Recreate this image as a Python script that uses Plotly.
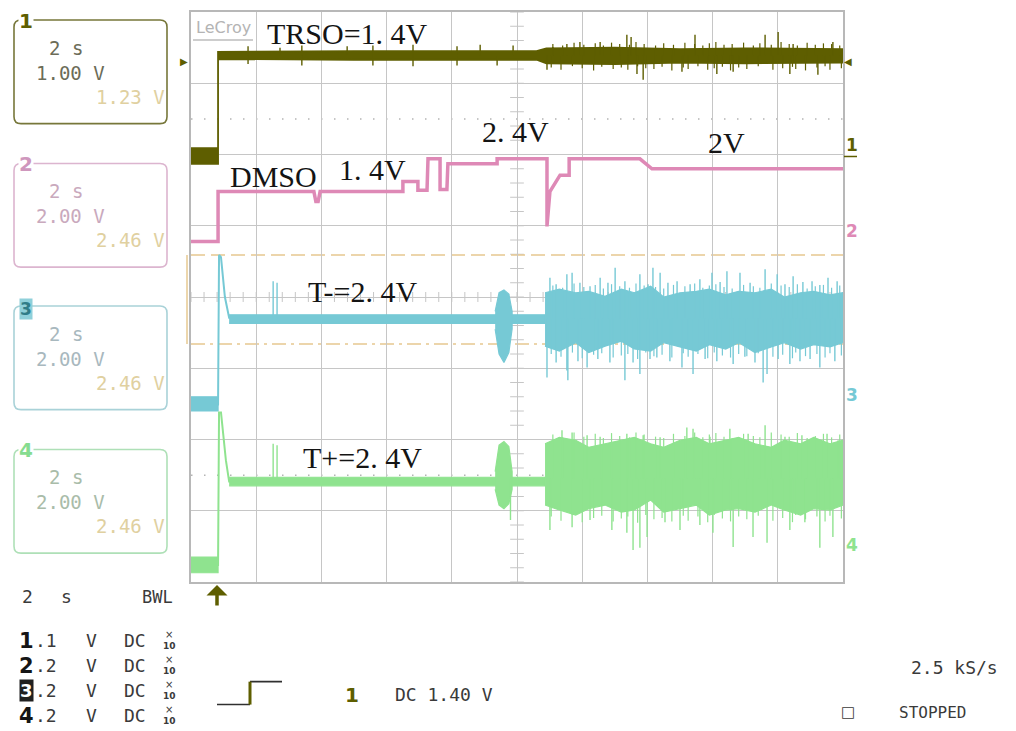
import plotly.graph_objects as go

# ---------------- DATA (time in s, 2 s/div; vertical in screen divisions) ----------------
# Channel 1 (TRSO) – olive
ch1_band_t = [-10.0, -9.17, -9.17, -5.0, 0.6, 0.9, 3.0, 5.0, 7.0, 10.0]
ch1_band_hi = [2.09, 2.09, 3.44, 3.45, 3.45, 3.49, 3.50, 3.48, 3.49, 3.48]
ch1_band_lo = [1.87, 1.87, 3.34, 3.33, 3.33, 3.28, 3.27, 3.29, 3.28, 3.29]
ch1_base = 3.39
ch1_up_t = [-8.25, -7.27, -6.60, -5.21, -4.42, -3.19, -1.84, -1.13, -0.12, 1.10,
            1.53, 1.93, 2.55, 3.37, 3.50, 5.46, 7.61, 8.01, 8.47, 9.69]
ch1_up_v = [3.52, 3.50, 3.53, 3.52, 3.53, 3.54, 3.52, 3.54, 3.53, 3.51,
            3.55, 3.58, 3.58, 3.68, 3.65, 3.68, 3.68, 3.72, 3.55, 3.58]
ch1_dn_t = [-8.25, -6.60, -4.42, -3.19, -1.84, -0.61, 0.92, 3.68, 3.87, 5.06, 6.13, 6.63, 8.37, 9.23]
ch1_dn_v = [3.27, 3.25, 3.25, 3.24, 3.25, 3.25, 3.19, 3.13, 3.05, 3.16, 3.13, 3.16, 3.13, 3.12]
ch1_mid_up_v = [3.55, 3.53, 3.57, 3.54, 3.56, 3.53, 3.57, 3.55, 3.54, 3.58, 3.55, 3.53, 3.56, 3.54, 3.57, 3.55, 3.53,
                3.56, 3.58, 3.54, 3.55, 3.57, 3.53, 3.56, 3.54, 3.58, 3.55, 3.53, 3.57, 3.54, 3.56, 3.55, 3.53]
ch1_mid_dn_v = [3.22, 3.19, 3.24, 3.21, 3.18, 3.23, 3.20, 3.22, 3.19, 3.24, 3.21, 3.20, 3.23, 3.18, 3.22, 3.20, 3.24,
                3.19, 3.21, 3.23, 3.18, 3.22, 3.20, 3.24, 3.19, 3.21, 3.23, 3.20, 3.18, 3.22, 3.24, 3.19, 3.21]

# Channel 2 (DMSO) – pink
ch2_t = [-10.0, -9.17, -9.17, -6.23, -6.17, -6.10, -6.04, -3.50, -3.50, -3.04,
         -3.04, -2.76, -2.73, -2.36, -2.36, -2.15, -2.12, -0.61, -0.61, 0.92,
         0.92, 1.01, 1.32, 1.60, 1.60, 3.77, 4.14, 10.0]
ch2_v = [0.78, 0.78, 1.48, 1.48, 1.34, 1.34, 1.48, 1.48, 1.62, 1.62,
         1.50, 1.50, 1.94, 1.94, 1.51, 1.51, 1.87, 1.87, 1.94, 1.94,
         0.99, 1.48, 1.71, 1.71, 1.94, 1.94, 1.80, 1.80]

# Channel 3 (T-) – cyan
ch3_line_t = [-10.0, -9.17, -9.14, -9.08, -8.96, -8.83, 0.86]
ch3_line_v = [-1.51, -1.51, 0.59, 0.56, 0.00, -0.29, -0.31]
ch3_low_t = [-10.0, -9.17]
ch3_low_hi = [-1.40, -1.40]
ch3_low_lo = [-1.60, -1.60]
ch3_flat_t = [-8.83, 0.86]
ch3_flat_hi = [-0.25, -0.25]
ch3_flat_lo = [-0.37, -0.37]
ch3_burst_t = [-0.67, -0.55, -0.40, -0.25, -0.15]
ch3_burst_hi = [-0.20, 0.06, 0.10, 0.04, -0.20]
ch3_burst_lo = [-0.45, -0.80, -0.92, -0.78, -0.45]
noise_t = [0.86, 1.3, 1.8, 2.2, 2.7, 3.2, 3.6, 4.1, 4.5, 5.0, 5.5,
           5.9, 6.4, 6.8, 7.3, 7.8, 8.2, 8.7, 9.1, 9.6, 10.0]
ch3_noise_hi = [0.06, 0.11, 0.06, 0.08, 0.01, 0.11, 0.06, 0.15, 0.0, 0.06, 0.08,
                0.11, 0.03, 0.08, 0.06, 0.11, 0.0, 0.06, 0.08, 0.03, 0.06]
ch3_noise_lo = [-0.69, -0.76, -0.64, -0.78, -0.69, -0.62, -0.73, -0.76, -0.64, -0.70, -0.76,
                -0.67, -0.73, -0.64, -0.78, -0.70, -0.64, -0.73, -0.67, -0.70, -0.64]
ch3_base = -0.30
ch3_up_t = [-7.48, -7.36, 1.01, 1.20, 1.53, 1.69, 1.93, 2.24, 2.55, 2.79, 3.01, 3.31, 3.77, 4.02,
            4.17, 4.39, 4.63, 4.91, 5.31, 5.61, 5.98, 6.23, 6.44, 6.84, 7.15, 7.61,
            7.98, 8.22, 8.47, 8.77, 9.05, 9.29, 9.54, 9.82]
ch3_up_v = [0.22, 0.20, 0.27, 0.18, 0.32, 0.34, 0.20, 0.15, 0.27, 0.20, 0.41, 0.22, 0.32, 0.18,
            0.41, 0.34, 0.20, 0.22, 0.18, 0.25, 0.34, 0.21, 0.36, 0.34, 0.20, 0.39,
            0.32, 0.18, 0.29, 0.21, 0.22, 0.17, 0.27, 0.22]
ch3_dn_t = [0.92, 1.20, 1.53, 1.56, 1.87, 2.15, 2.48, 2.85, 3.31, 3.56, 3.77, 4.08, 4.29, 4.69,
            5.06, 5.40, 5.77, 6.13, 6.63, 6.99, 7.30, 7.55, 7.67, 8.01, 8.37, 8.68, 8.99, 9.29, 9.75]
ch3_dn_v = [-1.13, -0.92, -1.03, -1.17, -0.90, -0.99, -0.87, -0.92, -1.17, -0.92, -1.08, -0.87, -0.85, -0.90,
            -0.99, -1.08, -0.87, -0.90, -0.94, -0.84, -0.92, -1.20, -1.08, -0.87, -0.94, -0.90, -0.87, -0.99, -0.90]
# medium-height noise spikes (shared time positions for ch1 / ch3 / ch4 noisy section)
mid_up_t = [1.1, 1.4, 1.75, 2.05, 2.4, 2.65, 2.9, 3.15, 3.45, 3.65, 3.9, 4.25, 4.5, 4.8, 5.15, 5.45, 5.7,
            5.9, 6.1, 6.35, 6.6, 6.95, 7.25, 7.45, 7.8, 8.1, 8.35, 8.6, 8.9, 9.15, 9.4, 9.65, 9.9]
mid_dn_t = [1.05, 1.35, 1.7, 2.0, 2.35, 2.6, 2.95, 3.2, 3.4, 3.7, 3.95, 4.2, 4.45, 4.75, 5.1, 5.25, 5.55,
            5.85, 6.05, 6.3, 6.55, 6.8, 7.05, 7.4, 7.85, 8.15, 8.45, 8.55, 8.85, 9.2, 9.45, 9.6, 9.95]
ch3_mid_up_v = [0.16, 0.13, 0.19, 0.14, 0.17, 0.12, 0.18, 0.15, 0.13, 0.19, 0.16, 0.14, 0.12, 0.17, 0.15, 0.19, 0.13,
                0.16, 0.18, 0.14, 0.12, 0.17, 0.15, 0.13, 0.19, 0.16, 0.14, 0.18, 0.12, 0.15, 0.17, 0.13, 0.16]
ch3_mid_dn_v = [-0.80, -0.84, -0.78, -0.86, -0.81, -0.79, -0.85, -0.82, -0.80, -0.87, -0.78, -0.83, -0.81, -0.85,
                -0.79, -0.84, -0.80, -0.86, -0.78, -0.82, -0.85, -0.80, -0.83, -0.79, -0.84, -0.81, -0.86, -0.78,
                -0.83, -0.80, -0.85, -0.79, -0.82]

# Channel 4 (T+) – green
ch4_line_t = [-10.0, -9.17, -9.14, -9.08, -8.93, -8.83, 0.86]
ch4_line_v = [-3.76, -3.76, -1.62, -1.62, -2.29, -2.59, -2.59]
ch4_low_t = [-10.0, -9.17]
ch4_low_hi = [-3.65, -3.65]
ch4_low_lo = [-3.87, -3.87]
ch4_flat_t = [-8.83, 0.86]
ch4_flat_hi = [-2.53, -2.53]
ch4_flat_lo = [-2.65, -2.65]
ch4_burst_t = [-0.67, -0.55, -0.40, -0.25, -0.15]
ch4_burst_hi = [-2.45, -2.08, -2.03, -2.10, -2.45]
ch4_burst_lo = [-2.70, -2.92, -2.97, -2.90, -2.70]
ch4_noise_hi = [-2.06, -1.97, -2.01, -2.11, -2.06, -2.01, -1.97, -2.06, -2.11, -2.01, -1.97,
                -2.06, -2.01, -1.97, -2.06, -2.11, -2.01, -2.06, -1.97, -2.06, -2.01]
ch4_noise_lo = [-2.92, -2.99, -3.06, -2.97, -2.92, -3.02, -2.99, -2.85, -3.02, -2.97, -2.92,
                -3.06, -2.99, -2.97, -3.02, -2.92, -2.99, -3.06, -2.97, -2.99, -2.92]
ch4_base = -2.55
ch4_up_t = [-7.48, -7.36, 1.38, 1.69, 2.15, 2.55, 3.37, 3.87, 4.39, 5.21, 5.40, 5.92, 6.53,
            7.09, 7.61, 8.22, 8.74, 9.51, 9.85]
ch4_up_v = [-2.06, -2.08, -1.87, -1.90, -1.94, -1.96, -1.92, -1.94, -1.97, -1.83, -1.85, -1.96, -1.85,
            -1.92, -1.80, -1.96, -1.94, -1.92, -2.01]
ch4_dn_t = [-0.2, 1.01, 1.69, 2.24, 2.91, 3.37, 3.56, 3.77, 3.99, 4.54, 5.00, 5.61, 6.01, 6.63,
            7.24, 7.67, 8.37, 8.83, 9.29, 9.69]
ch4_dn_v = [-3.13, -3.27, -3.23, -3.13, -3.27, -3.31, -3.55, -3.52, -3.37, -3.16, -3.27, -3.20, -3.31, -3.51,
            -3.37, -3.45, -3.27, -3.16, -3.52, -3.37]
ch4_mid_up_v = [-1.93, -1.97, -1.90, -1.96, -1.92, -1.98, -1.91, -1.95, -1.97, -1.90, -1.93, -1.96, -1.98, -1.92,
                -1.95, -1.90, -1.97, -1.93, -1.91, -1.96, -1.98, -1.92, -1.95, -1.97, -1.90, -1.93, -1.96, -1.91,
                -1.98, -1.95, -1.92, -1.97, -1.93]
ch4_mid_dn_v = [-3.08, -3.14, -3.06, -3.16, -3.10, -3.07, -3.15, -3.11, -3.08, -3.17, -3.06, -3.12, -3.10, -3.15,
                -3.07, -3.14, -3.08, -3.16, -3.06, -3.11, -3.15, -3.08, -3.12, -3.07, -3.14, -3.10, -3.16, -3.06,
                -3.12, -3.08, -3.15, -3.07, -3.11]

# cursors (screen divisions)
cursor_levels = [0.59, -0.66]

# labels on the traces
trace_labels = ["TRSO=1. 4V", "DMSO", "1. 4V", "2. 4V", "2V", "T-=2. 4V", "T+=2. 4V"]
label_t = [-5.21, -7.48, -4.42, -0.06, 6.44, -4.75, -4.75]
label_v = [3.70, 1.69, 1.79, 2.32, 2.17, 0.08, -2.25]

# channel setup boxes
box_ch = ["1", "2", "3", "4"]
box_time = ["2 s", "2 s", "2 s", "2 s"]
box_vdiv = ["1.00 V", "2.00 V", "2.00 V", "2.00 V"]
box_meas = ["1.23 V", "2.46 V", "2.46 V", "2.46 V"]
table_ch = ["1", "2", "3", "4"]
table_vdiv = [".1", ".2", ".2", ".2"]

# ---------------- COLOURS ----------------
C1, C2, C3, C4 = "#5e5e00", "#de89b6", "#76c9d5", "#8fe38f"
TAN = "#e6c890"
GRID = "#c6c6c6"

# ---------------- FIGURE ----------------
W, H = 1016, 731
PL, PR, PT, PB = 191, 843, 10, 582


def X(p):
    return (p - PL) / (PR - PL)


def Y(p):
    return (PB - p) / (PB - PT)


fig = go.Figure()


def band(t, hi, lo, color, lw=1.2):
    fig.add_trace(go.Scatter(x=list(t) + list(t)[::-1], y=list(hi) + list(lo)[::-1],
                             fill="toself", fillcolor=color, mode="lines",
                             line=dict(color=color, width=lw), hoverinfo="skip",
                             showlegend=False))


def line(t, v, color, lw):
    fig.add_trace(go.Scatter(x=t, y=v, mode="lines", line=dict(color=color, width=lw),
                             hoverinfo="skip", showlegend=False))


def spikes(t, tips, base, color, lw=1.4):
    xs, ys = [], []
    for a, b in zip(t, tips):
        xs += [a, a, None]
        ys += [base, b, None]
    fig.add_trace(go.Scatter(x=xs, y=ys, mode="lines", line=dict(color=color, width=lw),
                             hoverinfo="skip", showlegend=False))


# channel 1
band(ch1_band_t, ch1_band_hi, ch1_band_lo, C1, 1.8)
spikes(ch1_up_t, ch1_up_v, ch1_base, C1)
spikes(ch1_dn_t, ch1_dn_v, ch1_base, C1)
spikes(mid_up_t, ch1_mid_up_v, ch1_base, C1, 1.2)
spikes(mid_dn_t, ch1_mid_dn_v, ch1_base, C1, 1.2)
# channel 2
line(ch2_t, ch2_v, C2, 3.5)
# channel 3
line(ch3_line_t, ch3_line_v, C3, 2)
band(ch3_low_t, ch3_low_hi, ch3_low_lo, C3)
band(ch3_flat_t, ch3_flat_hi, ch3_flat_lo, C3)
band(ch3_burst_t, ch3_burst_hi, ch3_burst_lo, C3)
band(noise_t, ch3_noise_hi, ch3_noise_lo, C3)
spikes(ch3_up_t, ch3_up_v, ch3_base, C3)
spikes(ch3_dn_t, ch3_dn_v, ch3_base, C3)
spikes(mid_up_t, ch3_mid_up_v, ch3_base, C3, 1.2)
spikes(mid_dn_t, ch3_mid_dn_v, ch3_base, C3, 1.2)
# channel 4
line(ch4_line_t, ch4_line_v, C4, 2)
band(ch4_low_t, ch4_low_hi, ch4_low_lo, C4)
band(ch4_flat_t, ch4_flat_hi, ch4_flat_lo, C4)
band(ch4_burst_t, ch4_burst_hi, ch4_burst_lo, C4)
band(noise_t, ch4_noise_hi, ch4_noise_lo, C4)
spikes(ch4_up_t, ch4_up_v, ch4_base, C4)
spikes(ch4_dn_t, ch4_dn_v, ch4_base, C4)
spikes(mid_up_t, ch4_mid_up_v, ch4_base, C4, 1.2)
spikes(mid_dn_t, ch4_mid_dn_v, ch4_base, C4, 1.2)

shapes = []
# graticule centre ticks
p = []
for k in range(-20, 21):
    yv = k * 0.2
    p.append(f"M -0.21,{yv} L 0.21,{yv}")
for k in range(-25, 26):
    xv = k * 0.4
    p.append(f"M {xv},-0.07 L {xv},0.07")
shapes.append(dict(type="path", xref="x", yref="y", path=" ".join(p),
                   line=dict(color=GRID, width=1), layer="below"))
# dotted rows
for yv in (2.5, -2.5):
    shapes.append(dict(type="line", xref="x", yref="y", x0=-10, x1=10, y0=yv, y1=yv,
                       line=dict(color="#b4b4b4", width=1.5, dash="1.5px,11.5px"), layer="below"))
# cursors
shapes.append(dict(type="line", xref="x", yref="y", x0=-10, x1=10, y0=cursor_levels[0], y1=cursor_levels[0],
                   line=dict(color=TAN, width=1.5, dash="14px,6px"), layer="below"))
shapes.append(dict(type="line", xref="x", yref="y", x0=-10, x1=10, y0=cursor_levels[1], y1=cursor_levels[1],
                   line=dict(color=TAN, width=1.5, dash="14px,5px,3px,5px"), layer="below"))
shapes.append(dict(type="line", xref="paper", yref="y", x0=X(187), x1=X(187),
                   y0=cursor_levels[0], y1=cursor_levels[1], line=dict(color=TAN, width=1.5)))


def rrect(x0, y0, x1, y1, r=7):
    return (f"M {X(x0 + r)},{Y(y0)} L {X(x1 - r)},{Y(y0)} Q {X(x1)},{Y(y0)} {X(x1)},{Y(y0 + r)} "
            f"L {X(x1)},{Y(y1 - r)} Q {X(x1)},{Y(y1)} {X(x1 - r)},{Y(y1)} "
            f"L {X(x0 + r)},{Y(y1)} Q {X(x0)},{Y(y1)} {X(x0)},{Y(y1 - r)} "
            f"L {X(x0)},{Y(y0 + r)} Q {X(x0)},{Y(y0)} {X(x0 + r)},{Y(y0)} Z")


box_top = [18, 162, 305, 449]
box_border = ["#77773a", "#dcb5cf", "#a9d2d8", "#aee0b7"]
box_label_col = ["#5e5e00", "#cf97bd", "#2f7c88", "#86dc90"]
box_txt_col = ["#6c6c58", "#c9a9bd", "#a8b8be", "#a9bca9"]
MEAS = "#e0d0a0"
for i in range(4):
    top = box_top[i]
    shapes.append(dict(type="path", xref="paper", yref="paper", path=rrect(14, top, 167, top + 104),
                       line=dict(color=box_border[i], width=1.6)))

# trigger symbol at bottom
shapes.append(dict(type="path", xref="paper", yref="paper",
                   path=f"M {X(217)},{Y(705)} L {X(250)},{Y(705)} M {X(250)},{Y(682)} L {X(282)},{Y(682)}",
                   line=dict(color="#303030", width=1.6)))
shapes.append(dict(type="line", xref="paper", yref="paper", x0=X(250), x1=X(250), y0=Y(705), y1=Y(682),
                   line=dict(color=C1, width=3)))
# LeCroy underline
shapes.append(dict(type="line", xref="paper", yref="paper", x0=X(193), x1=X(253), y0=Y(38), y1=Y(38),
                   line=dict(color="#bdbdbd", width=1.5)))
# channel-1 ground marker underline
shapes.append(dict(type="line", xref="paper", yref="paper", x0=X(844), x1=X(857), y0=Y(155), y1=Y(155),
                   line=dict(color=C1, width=1.5)))

ann = []


def txt(xp, yp, s, size, color, family="DejaVu Sans Mono", xanchor="center", bg=None, bold=False):
    d = dict(x=X(xp), y=Y(yp), xref="paper", yref="paper", text=(f"<b>{s}</b>" if bold else s),
             showarrow=False, xanchor=xanchor, yanchor="middle",
             font=dict(family=family, size=size, color=color))
    if bg:
        d["bgcolor"] = bg
        d["borderpad"] = 0
    ann.append(d)


# trace labels
for s, tx, vy in zip(trace_labels, label_t, label_v):
    ann.append(dict(x=tx, y=vy, xref="x", yref="y", text=s, showarrow=False,
                    font=dict(family="Liberation Serif", size=30, color="#141414")))

# boxes
for i in range(4):
    top = box_top[i]
    txt(47, top + 28, box_time[i], 19, box_txt_col[i], xanchor="left")
    txt(34, top + 53, box_vdiv[i], 19, box_txt_col[i], xanchor="left")
    txt(167, top + 77, box_meas[i], 19, MEAS, xanchor="right")
    if i == 2:
        txt(26, top + 3, box_ch[i], 17, box_label_col[i], family="DejaVu Sans", bg="#8fd0da", bold=True)
    else:
        txt(26, top + 1, box_ch[i], 20, box_label_col[i], family="DejaVu Sans", bg="white", bold=True)

# right-hand channel markers
for s, yp, c in zip(box_ch, [143, 230, 394, 545], [C1, C2, C3, C4]):
    txt(852, yp, s, 17, c, family="DejaVu Sans", bold=True)
txt(848, 60, "◀", 10, C1, family="DejaVu Sans")
txt(184, 60, "▶", 10, C1, family="DejaVu Sans")

# LeCroy logo
txt(223, 26, "LeCroy", 16, "#b4b4b4", family="DejaVu Sans")

# bottom table
TC = "#3a3a3a"
txt(27, 597, "2", 18, TC)
txt(67, 597, "s", 18, TC)
txt(157, 597, "BWL", 17, TC)
row_y = [641, 666, 691, 716]
for i in range(4):
    yp = row_y[i]
    if i == 2:
        txt(26, yp, table_ch[i], 18, "white", family="DejaVu Sans", bg="#202020", bold=True)
    else:
        txt(26, yp, table_ch[i], 21, "#151515", family="DejaVu Sans", bold=True)
    txt(46, yp, table_vdiv[i], 18, TC)
    txt(91, yp, "V", 18, TC)
    txt(135, yp, "DC", 18, TC)
    txt(169, yp - 6, "×", 10, TC, family="DejaVu Sans")
    txt(169, yp + 5, "<b>10</b>", 9, TC, family="DejaVu Sans")

# trigger info
txt(352, 695, "1", 20, C1, family="DejaVu Sans", bold=True)
txt(444, 695, "DC 1.40 V", 18, TC)
txt(955, 668, "2.5 kS/s", 18, TC)
txt(848, 712, "□", 15, TC, family="DejaVu Sans")
txt(932, 713, "STOPPED", 16, TC)

# trigger position arrow
ann.append(dict(x=X(217), y=Y(585), xref="paper", yref="paper", ax=0, ay=22, text="",
                showarrow=True, arrowhead=1, arrowsize=1, arrowwidth=3.5, arrowcolor=C1))

fig.update_layout(
    width=W, height=H, autosize=False,
    margin=dict(l=PL, r=W - PR, t=PT, b=H - PB, pad=0),
    paper_bgcolor="white", plot_bgcolor="white", showlegend=False,
    xaxis=dict(range=[-10, 10], dtick=2, tick0=0, showgrid=True, gridcolor=GRID, gridwidth=1.3,
               zeroline=False, showticklabels=False, ticks="", showline=True, linecolor="#b8b8b8",
               linewidth=1.5, mirror=True, fixedrange=True),
    yaxis=dict(range=[-4, 4], dtick=1, tick0=0, showgrid=True, gridcolor=GRID, gridwidth=1.3,
               zeroline=False, showticklabels=False, ticks="", showline=True, linecolor="#b8b8b8",
               linewidth=1.5, mirror=True, fixedrange=True),
    shapes=shapes, annotations=ann,
)

fig.write_html("out.html", config={"displayModeBar": False},
               post_script="document.body.style.margin='0';document.body.style.overflow='hidden';")
